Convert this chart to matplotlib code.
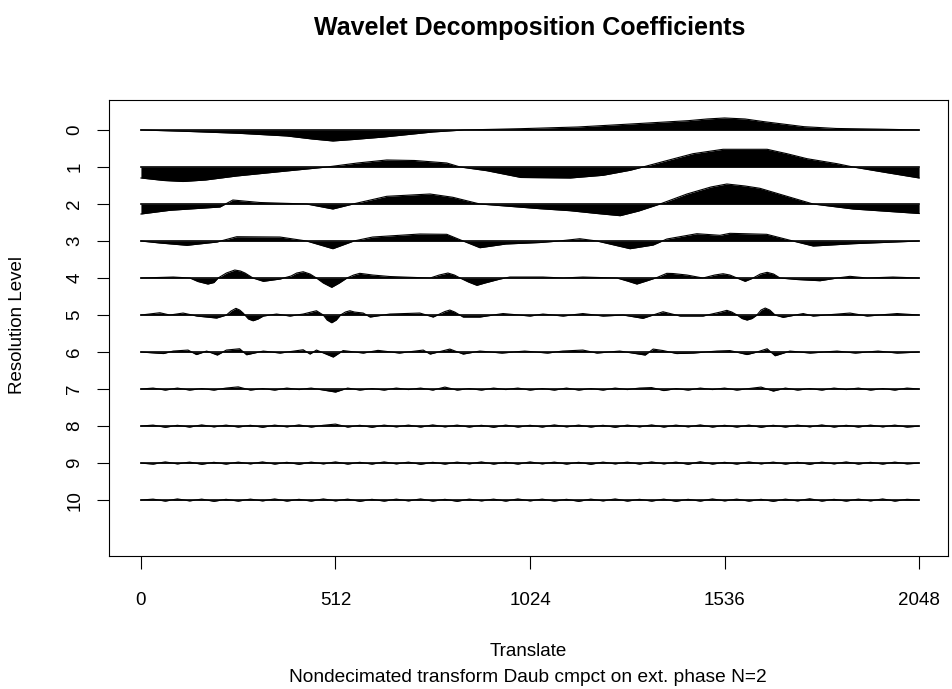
import matplotlib
import numpy as np

matplotlib.use("Agg")
import matplotlib.pyplot as plt

plt.rcParams["font.family"] = ["Liberation Sans", "DejaVu Sans"]

TITLE = "Wavelet Decomposition Coefficients"
XLABEL = "Translate"
SUBTITLE = "Nondecimated transform Daub cmpct on ext. phase N=2"
YLABEL = "Resolution Level"
N = 2048
XTICKS = [0, 512, 1024, 1536, 2048]
LEVELS = list(range(11))

# coarse levels: (translate, coefficient)
L0_T = [0, 128, 256, 384, 450, 505, 560, 640, 768, 850, 1000, 1150, 1290, 1440, 1490, 1536,
        1590, 1640, 1745, 1830, 1950, 2048]
L0_V = [0, -1.5, -3.3, -6, -9, -11, -9.5, -7, -2, 0, 1.3, 3, 6, 9.3, 11, 12,
        11, 8.3, 3.3, 1.5, 0.8, 0]

L1_T = [0, 60, 111, 170, 252, 383, 490, 570, 647, 720, 805, 840, 910, 1000, 1130, 1216, 1287,
        1321, 1393, 1453, 1532, 1648, 1700, 1753, 1832, 1874, 1963, 2048]
L1_V = [-11, -13.5, -14.5, -13, -9, -4, 0, 4, 7, 6.5, 4, 0, -3.7, -10.5, -11, -8.3, -3.3,
        0, 7.3, 13.3, 17.7, 17.7, 13.3, 8.3, 3.3, 0, -5.7, -11]

L2_T = [0, 76, 208, 242, 313, 436, 505, 558, 647, 761, 821, 892, 1050, 1129, 1200, 1261, 1310,
        1366, 1437, 1500, 1542, 1590, 1629, 1700, 1769, 1874, 2048]
L2_V = [-10, -6.3, -3, 4, 1.5, 0, -5, 0, 7.7, 10, 6.7, 0, -4.7, -6.7, -9.5, -11.7, -7,
        0, 10, 17, 20, 18, 15.7, 7.7, 0, -5, -9.5]

L3_T = [0, 50, 121, 200, 252, 366, 436, 505, 560, 610, 734, 805, 848, 892, 960, 1050, 1100,
        1155, 1200, 1287, 1348, 1384, 1463, 1524, 1550, 1647, 1716, 1769, 1874, 2048]
L3_V = [0, -2, -4.3, -1, 4.3, 4, 0, -7.7, 0, 4, 7, 6.7, 0, -6.7, -3, -1.5, 0,
        2.3, 0, -7.7, -4, 2, 7.3, 5.7, 7.7, 6.7, 0, -5, -2.7, 0]

L4_T = [0, 85, 129, 150, 176, 192, 203, 225, 247, 262, 274, 295, 322, 366, 395, 410, 427,
        445, 462, 480, 502, 522, 542, 560, 576, 610, 655, 761, 785, 808, 825, 840, 862,
        884, 905, 945, 971, 1058, 1111, 1163, 1253, 1280, 1305, 1330, 1358, 1384, 1400,
        1437, 1479, 1510, 1532, 1550, 1569, 1590, 1611, 1630, 1648, 1665, 1682, 1727,
        1787, 1832, 1866, 1911, 1979, 2048]
L4_V = [0, 1, 0, -3.5, -6, -4.5, 0, 5, 8, 7, 5, 0, -3.3, -1, 2, 5, 6.3,
        4, 0, -5, -9.3, -5, 0, 3, 4.7, 3, 1.5, 0, 3, 5, 3, 0, -4,
        -7.3, -5, -1, 1, 1, 0, 1, 0, -3, -6, -3, 0.5, 4.7, 4.5,
        3, 0, 3, 4.3, 3, 0, -3.3, 0, 4, 5.7, 4, 0, -1.5,
        -2.7, 0, 1.7, 0, 1, 0]

L5_T = [0, 50, 76, 111, 147, 199, 225, 237, 250, 260, 269, 283, 295, 308, 322, 357, 392,
        427, 448, 462, 480, 490, 502, 514, 525, 538, 550, 562, 585, 603, 655, 734, 769,
        800, 813, 826, 848, 892, 953, 1024, 1058, 1111, 1163, 1216, 1269, 1321, 1374,
        1419, 1479, 1525, 1542, 1555, 1569, 1582, 1595, 1608, 1621, 1632, 1643, 1655,
        1669, 1690, 1743, 1769, 1866, 1911, 1990, 2048]
L5_V = [0, 2.3, 0, 2, -1, -3, 0, 4, 6.7, 5, 2, -4, -5.7, -4, -1, 1, -1,
        1, 3, 4.3, 0, -5, -7.7, -5, 0, 3, 4.3, 3, 2, -2, 1, 2, -2,
        3.5, 5, 3, -2, -2, 1.5, -1, 1, -1, 1.5, -1, 0, -3.3, 3.3,
        -1, -1, 3, 4.7, 3, 0, -3.5, -5, -3.5, 0, 5, 7, 5,
        0, -2.3, 1.5, -1, 2, -1, 1.5, 0]

L6_T = [0, 59, 85, 124, 146, 173, 201, 225, 260, 278, 322, 366, 427, 445, 462, 506, 532,
        585, 624, 680, 743, 761, 813, 848, 892, 950, 1010, 1070, 1110, 1163, 1200, 1260,
        1327, 1348, 1374, 1410, 1454, 1516, 1550, 1595, 1621, 1648, 1669, 1708, 1761,
        1832, 1880, 1940, 1990, 2048]
L6_V = [0, -1.5, 1, 2, -2.5, 1, -3, 2, 3.3, -2.7, 1, -1, 2.3, -2, 2, -5, 1.5,
        -1, 1.7, -1, 2, -2, 3, -2, 1, -1, 1, -1, 1, 2, -1, 1,
        -3, 3, 1.5, -1.5, -1, 1, 1.5, -2.5, 0, 3.3, -3.7, 1, -1,
        1, -1, 1, -1, 0]

# fine levels: coefficients on an even grid of translates
L7_V = [0, 1, -1, 1, -1, 0.5, -1, 1, 2.2, -1, 0.5, -1, 1, -0.5, 1, -1, -3, 1, -1, 0.5,
        -1, 1, -0.5, 1, -1, 2, -1, 0.5, -1, 1, -0.5, 1, -1, 0.5, -1, 1, -1, 0.5, -1, 1,
        -0.5, 1, 1.5, -1.5, 0.5, -1, 1, -0.5, 1, -1, 0.5, 2, -2, 1, -1, 0.5, -1, 1, -0.5,
        1, -1, 0.5, -1, 1, 0]
L8_V = [0, 1, -1.2, 0.8, -1, 1.2, -0.8, 1, -1, 0.8, -1.2, 1, -0.8, 1.2, -1, 0.8, 2, -1,
        0.8, -1.2, 1, -0.8, 1, -1, 1.2, -0.8, 1, -1, 0.8, -1.2, 1, -1, 0.8, -1, 1.2, -0.8,
        1, -1, 0.8, -1.2, 1, -0.8, 1.2, -1, 1, -0.8, 1.2, -1, 0.8, -1, 1, -1.2, 0.8, -1,
        1, -0.8, 1.2, -1, 0.8, -1, 1, -0.8, 1, -1, 0]
L9_V = [0, -1, 1.2, -0.8, 1, -1.2, 0.8, -1, 1, -0.8, 1.2, -1, 0.8, -1.2, 1, -0.8, 1.2,
        -1, 0.8, -1, 1.2, -0.8, 1, -1.2, 0.8, -1, 1, -0.8, 1.2, -1, 0.8, -1, 1.2, -0.8,
        1, -1, 0.8, -1.2, 1, -0.8, 1, -1, 1.2, -0.8, 1, -1.2, 1.4, -1, 0.8, -1, 1.2, -0.8,
        1, -1, 0.8, -1.2, 1, -0.8, 1.2, -1, 0.8, -1, 1, -0.8, 0]
L10_V = [0, 1, -1, 1.2, -0.8, 1, -1.2, 0.8, -1, 1, -0.8, 1.2, -1, 0.8, -1, 1.2, -0.8, 1,
         -1.2, 0.8, -1, 1, -0.8, 1.2, -1, 0.8, -1.2, 1, -0.8, 1, -1, 1.2, -0.8, 1, -1,
         0.8, -1.2, 1, -0.8, 1.2, -1, 0.8, -1, 1, -1.2, 0.8, -1, 1.2, -0.8, 1, -1, 0.8,
         -1.2, 1, -0.8, 1.4, -1, 0.8, -1, 1, -0.8, 1.2, -1, 0.8, 0]

COEFS = [
    (L0_T, L0_V), (L1_T, L1_V), (L2_T, L2_V), (L3_T, L3_V),
    (L4_T, L4_V), (L5_T, L5_V), (L6_T, L6_V),
    (np.linspace(0, N, len(L7_V)), L7_V), (np.linspace(0, N, len(L8_V)), L8_V),
    (np.linspace(0, N, len(L9_V)), L9_V), (np.linspace(0, N, len(L10_V)), L10_V),
]
COEF_SCALE = 1 / 37.0  # coefficient units -> level spacing

W, H = 952, 689
fig = plt.figure(figsize=(W / 100, H / 100), dpi=100)
ax = fig.add_axes([109 / W, 1 - 556 / H, (948 - 109) / W, (556 - 100) / H])

for lev, (t, v) in zip(LEVELS, COEFS):
    t = np.asarray(t, dtype=float)
    y = lev - np.asarray(v, dtype=float) * COEF_SCALE
    ax.fill_between(t, lev, y, color="black", linewidth=0)
    ax.plot(t, y, color="black", lw=0.8, solid_joinstyle="round")
    ax.plot([0, N], [lev, lev], color="black", lw=1.2)

ax.set_xlim(-84, 2124)
ax.set_ylim(11.51, -0.81)
ax.set_xticks(XTICKS)
ax.set_xticklabels([str(x) for x in XTICKS])
ax.set_yticks(LEVELS)
ax.set_yticklabels([str(l) for l in LEVELS], rotation=90, va="center")
ax.tick_params(axis="both", direction="out", length=9, width=0.8, labelsize=13.5)
ax.tick_params(axis="x", pad=17)
ax.tick_params(axis="y", pad=9.5)
for sp in ax.spines.values():
    sp.set_linewidth(0.8)

fig.text(530 / W, 1 - 28 / H, TITLE, ha="center", va="center", fontsize=18, fontweight="bold")
fig.text(528 / W, 1 - 652 / H, XLABEL, ha="center", va="center", fontsize=13.5)
fig.text(528 / W, 1 - 677 / H, SUBTITLE, ha="center", va="center", fontsize=13.8)
fig.text(18 / W, 1 - 325 / H, YLABEL, ha="center", va="center", rotation=90, fontsize=13.5)

fig.savefig("out.png", dpi=100)
